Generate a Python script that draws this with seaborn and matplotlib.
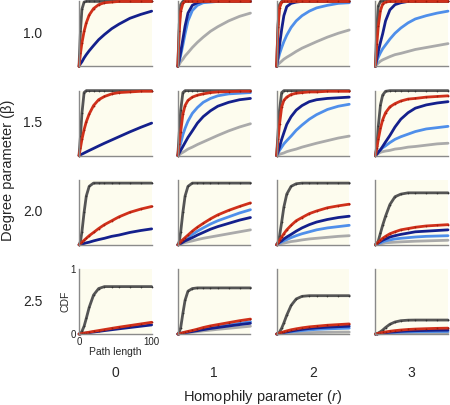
import numpy as np
import pandas as pd
import matplotlib
matplotlib.use("Agg")
import matplotlib.pyplot as plt
import seaborn as sns

# Grid values
degree_params = ["1.0", "1.5", "2.0", "2.5"]
homophily_params = ["0", "1", "2", "3"]
path_length = [0, 2, 4, 7, 10, 14, 20, 27, 35, 45, 55, 70, 85, 100]

# CDF curves, indexed [degree row][homophily column]
curve_dark = [
    [[0, 0.55, 0.88, 0.99, 1, 1, 1, 1, 1, 1, 1, 1, 1, 1],
     [0, 0.65, 0.95, 1, 1, 1, 1, 1, 1, 1, 1, 1, 1, 1],
     [0, 0.65, 0.95, 1, 1, 1, 1, 1, 1, 1, 1, 1, 1, 1],
     [0, 0.60, 0.93, 1, 1, 1, 1, 1, 1, 1, 1, 1, 1, 1]],
    [[0, 0.30, 0.65, 0.97, 1, 1, 1, 1, 1, 1, 1, 1, 1, 1],
     [0, 0.35, 0.70, 0.97, 1, 1, 1, 1, 1, 1, 1, 1, 1, 1],
     [0, 0.35, 0.70, 0.97, 1, 1, 1, 1, 1, 1, 1, 1, 1, 1],
     [0, 0.15, 0.45, 0.78, 0.93, 0.99, 1, 1, 1, 1, 1, 1, 1, 1]],
    [[0, 0.05, 0.20, 0.50, 0.75, 0.90, 0.95, 0.95, 0.95, 0.95, 0.95, 0.95, 0.95, 0.95],
     [0, 0.05, 0.20, 0.50, 0.75, 0.90, 0.95, 0.95, 0.95, 0.95, 0.95, 0.95, 0.95, 0.95],
     [0, 0.04, 0.13, 0.35, 0.58, 0.78, 0.90, 0.94, 0.95, 0.95, 0.95, 0.95, 0.95, 0.95],
     [0, 0.02, 0.06, 0.18, 0.30, 0.44, 0.62, 0.74, 0.78, 0.80, 0.80, 0.80, 0.80, 0.80]],
    [[0, 0.01, 0.04, 0.12, 0.24, 0.41, 0.60, 0.70, 0.73, 0.73, 0.73, 0.73, 0.73, 0.73],
     [0, 0.03, 0.10, 0.32, 0.52, 0.66, 0.70, 0.71, 0.71, 0.71, 0.71, 0.71, 0.71, 0.71],
     [0, 0.01, 0.03, 0.09, 0.17, 0.29, 0.44, 0.54, 0.58, 0.59, 0.59, 0.59, 0.59, 0.59],
     [0, 0.005, 0.015, 0.035, 0.06, 0.10, 0.15, 0.185, 0.205, 0.213, 0.215, 0.215, 0.215, 0.215]],
]

curve_red = [
    [[0, 0.20, 0.36, 0.54, 0.67, 0.79, 0.89, 0.95, 0.98, 0.99, 1, 1, 1, 1],
     [0, 0.55, 0.85, 0.97, 1, 1, 1, 1, 1, 1, 1, 1, 1, 1],
     [0, 0.60, 0.90, 0.99, 1, 1, 1, 1, 1, 1, 1, 1, 1, 1],
     [0, 0.35, 0.62, 0.86, 0.96, 0.99, 1, 1, 1, 1, 1, 1, 1, 1]],
    [[0, 0.12, 0.25, 0.40, 0.52, 0.64, 0.77, 0.86, 0.91, 0.95, 0.97, 0.98, 0.99, 0.99],
     [0, 0.18, 0.37, 0.64, 0.77, 0.85, 0.90, 0.93, 0.95, 0.97, 0.98, 0.985, 0.99, 0.99],
     [0, 0.25, 0.48, 0.75, 0.85, 0.90, 0.94, 0.96, 0.97, 0.98, 0.98, 0.99, 0.99, 0.99],
     [0, 0.12, 0.25, 0.42, 0.55, 0.66, 0.75, 0.80, 0.84, 0.87, 0.88, 0.90, 0.91, 0.92]],
    [[0, 0.02, 0.04, 0.07, 0.10, 0.14, 0.19, 0.25, 0.31, 0.37, 0.43, 0.50, 0.55, 0.59],
     [0, 0.02, 0.05, 0.08, 0.11, 0.15, 0.21, 0.27, 0.33, 0.40, 0.46, 0.53, 0.59, 0.645],
     [0, 0.03, 0.07, 0.12, 0.17, 0.23, 0.30, 0.37, 0.42, 0.48, 0.52, 0.57, 0.60, 0.625],
     [0, 0.02, 0.04, 0.07, 0.10, 0.13, 0.17, 0.20, 0.23, 0.25, 0.27, 0.29, 0.30, 0.31]],
    [[0, 0.004, 0.008, 0.014, 0.02, 0.028, 0.04, 0.053, 0.068, 0.087, 0.105, 0.13, 0.155, 0.18],
     [0, 0.006, 0.012, 0.02, 0.03, 0.04, 0.055, 0.075, 0.10, 0.125, 0.145, 0.175, 0.205, 0.23],
     [0, 0.008, 0.015, 0.025, 0.035, 0.048, 0.065, 0.08, 0.095, 0.11, 0.12, 0.135, 0.145, 0.155],
     [0, 0.005, 0.01, 0.017, 0.024, 0.032, 0.042, 0.052, 0.061, 0.07, 0.076, 0.082, 0.087, 0.09]],
]

curve_navy = [
    [[0, 0.04, 0.07, 0.13, 0.18, 0.24, 0.32, 0.41, 0.49, 0.58, 0.65, 0.74, 0.80, 0.85],
     [0, 0.10, 0.22, 0.42, 0.62, 0.82, 0.94, 0.98, 1, 1, 1, 1, 1, 1],
     [0, 0.15, 0.32, 0.57, 0.78, 0.92, 0.97, 0.99, 1, 1, 1, 1, 1, 1],
     [0, 0.12, 0.23, 0.37, 0.50, 0.70, 0.87, 0.95, 0.98, 1, 1, 1, 1, 1]],
    [[0, 0.011, 0.022, 0.039, 0.056, 0.078, 0.11, 0.148, 0.19, 0.24, 0.29, 0.365, 0.435, 0.50],
     [0, 0.04, 0.08, 0.14, 0.20, 0.28, 0.38, 0.50, 0.60, 0.69, 0.76, 0.82, 0.86, 0.88],
     [0, 0.06, 0.13, 0.25, 0.35, 0.48, 0.60, 0.70, 0.77, 0.83, 0.86, 0.88, 0.89, 0.90],
     [0, 0.02, 0.05, 0.09, 0.14, 0.21, 0.31, 0.44, 0.56, 0.66, 0.73, 0.78, 0.81, 0.83]],
    [[0, 0.005, 0.01, 0.02, 0.03, 0.04, 0.06, 0.08, 0.10, 0.13, 0.15, 0.19, 0.22, 0.245],
     [0, 0.01, 0.02, 0.04, 0.06, 0.08, 0.11, 0.15, 0.19, 0.24, 0.28, 0.33, 0.38, 0.42],
     [0, 0.02, 0.04, 0.06, 0.09, 0.12, 0.16, 0.21, 0.26, 0.31, 0.35, 0.39, 0.42, 0.44],
     [0, 0.01, 0.03, 0.05, 0.07, 0.09, 0.12, 0.14, 0.16, 0.18, 0.20, 0.21, 0.22, 0.23]],
    [[0, 0.003, 0.006, 0.011, 0.015, 0.021, 0.03, 0.04, 0.052, 0.066, 0.08, 0.10, 0.12, 0.14],
     [0, 0.004, 0.008, 0.014, 0.02, 0.028, 0.039, 0.052, 0.067, 0.085, 0.10, 0.123, 0.145, 0.165],
     [0, 0.005, 0.01, 0.017, 0.024, 0.033, 0.045, 0.058, 0.071, 0.085, 0.095, 0.105, 0.113, 0.12],
     [0, 0.003, 0.006, 0.01, 0.015, 0.02, 0.027, 0.034, 0.041, 0.047, 0.051, 0.055, 0.058, 0.06]],
]

curve_blue = [
    [None,
     [0, 0.08, 0.17, 0.33, 0.50, 0.70, 0.86, 0.94, 0.98, 0.99, 1, 1, 1, 1],
     [0, 0.10, 0.19, 0.29, 0.38, 0.48, 0.60, 0.70, 0.78, 0.85, 0.90, 0.94, 0.97, 0.98],
     [0, 0.08, 0.14, 0.21, 0.27, 0.33, 0.42, 0.51, 0.59, 0.67, 0.73, 0.78, 0.82, 0.85]],
    [None,
     [0, 0.09, 0.19, 0.32, 0.42, 0.53, 0.65, 0.74, 0.82, 0.88, 0.92, 0.95, 0.96, 0.97],
     [0, 0.04, 0.08, 0.13, 0.18, 0.23, 0.30, 0.39, 0.47, 0.56, 0.63, 0.71, 0.76, 0.79],
     [0, 0.03, 0.06, 0.09, 0.12, 0.15, 0.20, 0.25, 0.29, 0.33, 0.37, 0.41, 0.43, 0.45]],
    [None,
     [0, 0.015, 0.03, 0.06, 0.08, 0.11, 0.16, 0.21, 0.26, 0.32, 0.37, 0.43, 0.49, 0.54],
     [0, 0.015, 0.03, 0.045, 0.06, 0.08, 0.11, 0.14, 0.17, 0.20, 0.23, 0.26, 0.28, 0.30],
     [0, 0.01, 0.02, 0.03, 0.045, 0.06, 0.075, 0.09, 0.10, 0.11, 0.12, 0.13, 0.135, 0.14]],
    [None,
     [0, 0.005, 0.01, 0.016, 0.023, 0.032, 0.045, 0.06, 0.077, 0.097, 0.115, 0.14, 0.165, 0.19],
     [0, 0.004, 0.008, 0.013, 0.018, 0.025, 0.034, 0.043, 0.053, 0.063, 0.071, 0.079, 0.085, 0.09],
     [0, 0.002, 0.004, 0.007, 0.01, 0.013, 0.018, 0.022, 0.027, 0.031, 0.034, 0.037, 0.039, 0.04]],
]

curve_light = [
    [None,
     [0, 0.03, 0.07, 0.11, 0.16, 0.21, 0.29, 0.37, 0.45, 0.54, 0.61, 0.70, 0.77, 0.82],
     [0, 0.03, 0.05, 0.08, 0.11, 0.14, 0.18, 0.23, 0.28, 0.33, 0.38, 0.45, 0.51, 0.56],
     [0, 0.03, 0.05, 0.08, 0.10, 0.12, 0.15, 0.18, 0.20, 0.23, 0.26, 0.29, 0.32, 0.35]],
    [None,
     [0, 0.01, 0.03, 0.05, 0.07, 0.10, 0.13, 0.17, 0.21, 0.26, 0.31, 0.38, 0.44, 0.49],
     [0, 0.01, 0.02, 0.03, 0.04, 0.06, 0.08, 0.10, 0.13, 0.16, 0.19, 0.23, 0.27, 0.30],
     [0, 0.02, 0.03, 0.05, 0.06, 0.07, 0.08, 0.10, 0.11, 0.13, 0.14, 0.16, 0.18, 0.19]],
    [None,
     [0, 0.01, 0.015, 0.025, 0.035, 0.045, 0.06, 0.08, 0.10, 0.12, 0.14, 0.17, 0.20, 0.23],
     [0, 0.005, 0.01, 0.02, 0.025, 0.035, 0.05, 0.06, 0.075, 0.09, 0.10, 0.115, 0.13, 0.14],
     [0, 0.005, 0.01, 0.015, 0.02, 0.03, 0.035, 0.04, 0.045, 0.05, 0.055, 0.06, 0.065, 0.07]],
    [None,
     [0, 0.003, 0.006, 0.01, 0.014, 0.02, 0.028, 0.037, 0.048, 0.06, 0.072, 0.088, 0.104, 0.12],
     [0, 0.001, 0.003, 0.005, 0.006, 0.008, 0.011, 0.014, 0.017, 0.021, 0.024, 0.027, 0.029, 0.03],
     [0, 0.001, 0.002, 0.004, 0.005, 0.006, 0.008, 0.01, 0.012, 0.014, 0.016, 0.017, 0.019, 0.02]],
]

# draw order: back to front
series = [
    (curve_light, "#aaaaaa", None),
    (curve_blue, "#4f8fea", None),
    (curve_navy, "#14208c", None),
    (curve_dark, "#555555", "#333333"),
    (curve_red, "#d0301a", "#a01c0c"),
]

sns.set_theme(style="white")
plt.rcParams["font.family"] = ["Liberation Sans", "DejaVu Sans"]
plt.rcParams["mathtext.fontset"] = "custom"
plt.rcParams["mathtext.it"] = "Liberation Sans:italic"
plt.rcParams["mathtext.rm"] = "Liberation Sans"

fig, axes = plt.subplots(4, 4, figsize=(4.5, 4.05), dpi=100)
fig.subplots_adjust(left=0.1756, right=0.9956, top=0.9965, bottom=0.1753,
                    wspace=0.36, hspace=0.374)

for i in range(4):
    for j in range(4):
        ax = axes[i][j]
        ax.set_facecolor("#fdfcee")
        for data, color, mcolor in series:
            y = data[i][j]
            if y is None:
                continue
            kw = {}
            if mcolor is not None:
                kw = dict(marker=".", markersize=2.5, markerfacecolor=mcolor,
                          markeredgewidth=0)
            sns.lineplot(x=path_length, y=y, ax=ax, color=color, linewidth=2.0,
                         clip_on=False, **kw)
        ax.set_xlim(0, 100)
        ax.set_ylim(0, 1)
        for side in ["top", "right"]:
            ax.spines[side].set_visible(False)
        for side in ["left", "bottom"]:
            ax.spines[side].set_color("#8a8a8a")
            ax.spines[side].set_linewidth(1.0)
        if i == 3 and j == 0:
            ax.set_xticks([0, 100])
            ax.set_yticks([0, 1])
            ax.tick_params(labelsize=7, length=2, pad=0.5, colors="#222222")
            ax.set_xlabel("Path length", fontsize=7.5, labelpad=0)
            ax.set_ylabel("CDF", fontsize=7.5, labelpad=0)
        else:
            ax.set_xticks([])
            ax.set_yticks([])
            ax.set_xlabel("")
            ax.set_ylabel("")

# row and column labels
for i, lab in enumerate(degree_params):
    pos = axes[i][0].get_position()
    fig.text(0.073, (pos.y0 + pos.y1) / 2, lab, ha="center", va="center", fontsize=10)
for j, lab in enumerate(homophily_params):
    pos = axes[3][j].get_position()
    fig.text((pos.x0 + pos.x1) / 2, 1 - 373 / 405, lab, ha="center", va="center", fontsize=10)

fig.text(0.018, 0.58, "Degree parameter (β)", rotation=90, ha="center", va="center", fontsize=10.5)
fig.text(0.583, 1 - 397 / 405, "Homophily parameter ($\\mathit{r}$)", ha="center", va="center",
         fontsize=10.5)

fig.savefig("out.png", dpi=100)
